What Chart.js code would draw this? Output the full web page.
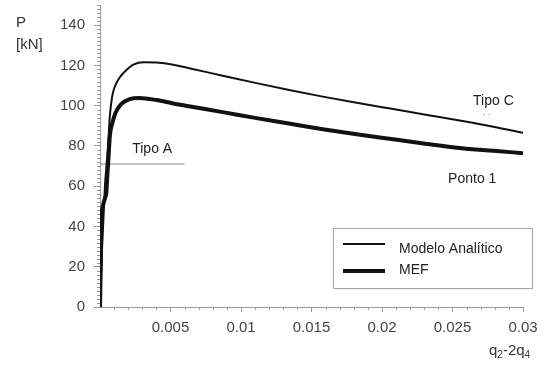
<!DOCTYPE html>
<html>
<head>
<meta charset="utf-8">
<script src="https://cdn.jsdelivr.net/npm/chart.js@4"></script>
<style>
  html, body { margin: 0; padding: 0; background: #fff; }
  #wrap { width: 549px; height: 368px; }
</style>
</head>
<body>
<div id="wrap"><canvas id="chart" width="549" height="368"></canvas></div>
<script>
// curva do modelo analitico (linha fina)
const xAnalitico = [0, 0.00015, 0.00035, 0.00055, 0.0007, 0.00085, 0.001, 0.0013, 0.0017, 0.0024, 0.0031, 0.004, 0.0052, 0.0064, 0.0087, 0.0111, 0.0135, 0.0158, 0.0182, 0.0208, 0.0232, 0.0255, 0.0279, 0.03];
const yAnalitico = [0, 30, 60, 78, 95, 104, 108.5, 113, 116.5, 120.5, 121.6, 121.4, 120.3, 118.5, 114.9, 111.2, 107.7, 104.5, 101.4, 98.3, 95.4, 92.6, 89.5, 86.5];

// curva MEF (linha grossa)
const xMEF = [0, 0.00005, 0.0001, 0.0002, 0.00035, 0.00045, 0.0005, 0.0006, 0.0007, 0.0009, 0.0011, 0.0015, 0.0021, 0.0028, 0.004, 0.0052, 0.0064, 0.0087, 0.0111, 0.0135, 0.0158, 0.0182, 0.0208, 0.0232, 0.0255, 0.0279, 0.03];
const yMEF = [0, 20, 43, 50, 54, 57, 63, 74, 85, 92, 96.5, 100.8, 103.2, 103.8, 102.8, 101.1, 99.6, 96.8, 93.8, 91.0, 88.3, 85.8, 83.3, 81.0, 79.0, 77.6, 76.4];

// linha horizontal "Tipo A"
const xTipoA = [0, 0.006];
const yTipoA = [71, 71];

const yTicks = [0, 20, 40, 60, 80, 100, 120, 140];
const xTicks = [0.005, 0.01, 0.015, 0.02, 0.025, 0.03];

// textos no grafico (coordenadas de dados)
const notas = [
  { text: 'Tipo A', x: 0.0037, y: 78.5 },
  { text: 'Tipo C', x: 0.0279, y: 102 },
  { text: 'Ponto 1', x: 0.0264, y: 63.5 }
];

const FONT = '"Liberation Sans", Arial, sans-serif';

function pts(xs, ys) {
  return xs.map((x, i) => ({ x: x, y: ys[i] }));
}

const extras = {
  id: 'extras',
  afterDraw(chart) {
    const c = chart.ctx;
    const xs = chart.scales.x, ys = chart.scales.y;
    const x0 = xs.getPixelForValue(0), y0 = ys.getPixelForValue(0);
    c.save();
    // minor ticks
    c.strokeStyle = '#999';
    c.lineWidth = 1;
    c.beginPath();
    for (let v = 2; v <= 150; v += 2) {
      if (v % 20 === 0) continue;
      const py = Math.round(ys.getPixelForValue(v)) + 0.5;
      c.moveTo(x0 - 3, py); c.lineTo(x0, py);
    }
    for (let k = 1; k <= 30; k++) {
      if (k % 5 === 0) continue;
      const px = Math.round(xs.getPixelForValue(k * 0.001)) + 0.5;
      c.moveTo(px, y0); c.lineTo(px, y0 + 3);
    }
    c.stroke();

    // notas
    c.fillStyle = '#222';
    c.font = '14px ' + FONT;
    c.textAlign = 'center';
    c.textBaseline = 'middle';
    notas.forEach(n => {
      c.fillText(n.text, xs.getPixelForValue(n.x), ys.getPixelForValue(n.y));
    });
    // pequenos tracos sob "Tipo C"
    c.fillStyle = '#bbb';
    c.fillRect(483, 114, 2, 1);
    c.fillRect(488, 114, 2, 1);

    // titulos dos eixos
    c.fillStyle = '#333';
    c.textAlign = 'left';
    c.textBaseline = 'alphabetic';
    c.font = '15px ' + FONT;
    c.fillText('P', 16, 27);
    c.fillText('[kN]', 16, 49);

    let px = 489;
    const base = 355;
    const parts = [['q', 15, 0], ['2', 10, 3], ['-2q', 15, 0], ['4', 10, 3]];
    parts.forEach(p => {
      c.font = p[1] + 'px ' + FONT;
      c.fillText(p[0], px, base + p[2]);
      px += c.measureText(p[0]).width;
    });

    // legenda
    c.fillStyle = '#fff';
    c.shadowColor = 'rgba(0,0,0,0.15)';
    c.shadowBlur = 2;
    c.shadowOffsetX = 1;
    c.shadowOffsetY = 1;
    c.fillRect(333, 228, 199, 60);
    c.shadowColor = 'transparent';
    c.strokeStyle = '#aaa';
    c.lineWidth = 1;
    c.strokeRect(333.5, 228.5, 199, 60);
    const ds = chart.data.datasets;
    const rows = [[ds[0], 244, 249], [ds[1], 271, 270]];
    rows.forEach(r => {
      c.strokeStyle = '#111';
      c.lineWidth = r[0].borderWidth;
      c.beginPath();
      c.moveTo(343, r[1]); c.lineTo(385, r[1]);
      c.stroke();
      c.fillStyle = '#222';
      c.font = '14px ' + FONT;
      c.textBaseline = 'middle';
      c.fillText(r[0].label, 399, r[2]);
    });
    c.restore();
  }
};

const ctx = document.getElementById('chart').getContext('2d');
const chart = new Chart(ctx, {
  type: 'line',
  data: {
    datasets: [
      {
        label: 'Modelo Analítico',
        data: pts(xAnalitico, yAnalitico),
        borderColor: '#111',
        borderWidth: 2,
        pointRadius: 0,
        cubicInterpolationMode: 'monotone'
      },
      {
        label: 'MEF',
        data: pts(xMEF, yMEF),
        borderColor: '#111',
        borderWidth: 4,
        pointRadius: 0,
        cubicInterpolationMode: 'monotone'
      },
      {
        label: 'Tipo A',
        data: pts(xTipoA, yTipoA),
        borderColor: '#888',
        borderWidth: 1,
        pointRadius: 0
      }
    ]
  },
  options: {
    responsive: false,
    animation: false,
    layout: { padding: { left: 0, right: 26, top: 5, bottom: 0 } },
    plugins: { legend: { display: false }, tooltip: { enabled: false } },
    scales: {
      x: {
        type: 'linear',
        min: 0,
        max: 0.03,
        afterBuildTicks: s => { s.ticks = xTicks.map(v => ({ value: v })); },
        afterFit: s => { s.height = 61; s.paddingLeft = 0; s.paddingRight = 0; },
        border: { color: '#999', width: 1 },
        grid: { drawOnChartArea: false, tickLength: 5, tickColor: '#999' },
        ticks: {
          color: '#444',
          padding: 7,
          maxRotation: 0,
          font: { family: FONT, size: 15 },
          callback: v => String(+v.toFixed(3))
        }
      },
      y: {
        min: 0,
        max: 150,
        afterBuildTicks: s => { s.ticks = yTicks.map(v => ({ value: v })); },
        afterFit: s => { s.width = 100; s.paddingTop = 0; s.paddingBottom = 0; },
        border: { color: '#999', width: 1 },
        grid: { drawOnChartArea: false, tickLength: 6, tickColor: '#999' },
        ticks: {
          color: '#444',
          padding: 9,
          font: { family: FONT, size: 15 }
        }
      }
    }
  },
  plugins: [extras]
});
</script>
</body>
</html>
